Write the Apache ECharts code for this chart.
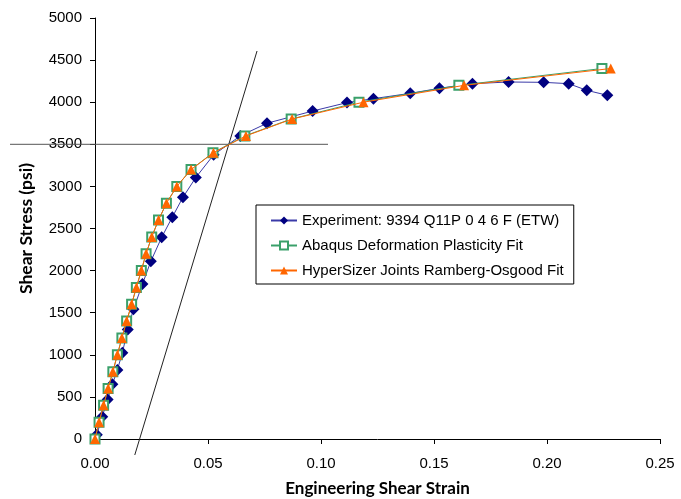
<!DOCTYPE html>
<html><head><meta charset="utf-8">
<script src="https://cdn.jsdelivr.net/npm/echarts@6/dist/echarts.min.js"></script>
<style>html,body{margin:0;padding:0;background:#fff}#c{width:681px;height:499px}</style>
</head><body><div id="c"></div>
<script>
const xTicks = [0, 0.05, 0.10, 0.15, 0.20, 0.25];
const yTicks = [0, 500, 1000, 1500, 2000, 2500, 3000, 3500, 4000, 4500, 5000];

const expStrain = [0.0008,0.0032,0.0056,0.0077,0.0099,0.0121,0.0145,0.0170,0.0210,0.0247,0.0295,0.0342,0.0389,0.0446,0.0525,0.0643,0.0761,0.0963,0.1115,0.1232,0.1395,0.1524,0.1670,0.1830,0.1985,0.2096,0.2176,0.2267];
const expStress = [50,265,470,650,820,1025,1300,1540,1840,2110,2395,2635,2870,3105,3375,3600,3750,3895,3995,4042,4105,4165,4220,4240,4236,4220,4141,4082];

const abqStrain = [0,0.0018,0.0038,0.0058,0.0079,0.0099,0.0119,0.0140,0.0162,0.0183,0.0205,0.0226,0.0251,0.0281,0.0316,0.0362,0.0425,0.0522,0.0663,0.0868,0.1168,0.1610,0.2243];
const abqStress = [0,200,400,600,800,1000,1200,1400,1600,1800,2000,2200,2400,2600,2800,3000,3200,3400,3600,3800,4000,4200,4400];

const hsStrain = [0,0.0018,0.0038,0.0058,0.0079,0.0099,0.0119,0.0140,0.0162,0.0183,0.0205,0.0226,0.0251,0.0281,0.0316,0.0362,0.0425,0.0524,0.0668,0.0872,0.1188,0.1633,0.2282];
const hsStress = [0,200,400,600,800,1000,1200,1400,1600,1800,2000,2200,2400,2600,2800,3000,3200,3400,3600,3800,4000,4200,4400];

const offsetLineStrain = [0.0176, 0.0717];
const offsetLineStress = [-190, 4608];
const hLineStrain = [-0.0376, 0.1031];
const hLineStress = [3500, 3500];

const names = ['Experiment: 9394 Q11P 0 4 6 F (ETW)','Abaqus Deformation Plasticity Fit','HyperSizer Joints Ramberg-Osgood Fit'];
const zip = (a,b) => a.map((v,i)=>[v,b[i]]);

const W = 681, H = 499;
const G = {left:95, right:21, top:18, bottom:60};
const xMin = 0, xMax = 0.25, yMin = 0, yMax = 5000;
// helper grid spanning to the page's left edge, same data-per-pixel scale as main x axis
const plotW = W - G.left - G.right;
const xMin2 = xMin - (xMax - xMin) * G.left / plotW;

const chart = echarts.init(document.getElementById('c'), null, {renderer:'canvas'});
const F = 'Liberation Sans, Arial, sans-serif';
const TF = 'Lato, sans-serif';
chart.setOption({
  animation:false,
  backgroundColor:'#fff',
  grid:[{left:G.left,right:G.right,top:G.top,bottom:G.bottom,containLabel:false,outerBoundsMode:'none'},
        {left:0,right:G.right,top:G.top,bottom:G.bottom,containLabel:false,outerBoundsMode:'none'}],
  xAxis:[{type:'value',gridIndex:0,min:xMin,max:xMax,interval:0.05,
    axisLine:{show:true,onZero:false,lineStyle:{color:'#000',width:1}},
    axisTick:{show:true,length:5,lineStyle:{color:'#000'}},
    splitLine:{show:false},
    axisLabel:{color:'#000',fontFamily:F,fontSize:15,margin:17,formatter:v=>v.toFixed(2)},
    name:'Engineering Shear Strain',nameLocation:'middle',nameGap:41,
    nameTextStyle:{fontFamily:TF,fontWeight:'bold',fontSize:17,color:'#000'}},
   {type:'value',gridIndex:1,min:xMin2,max:xMax,show:false}],
  yAxis:[{type:'value',gridIndex:0,min:yMin,max:yMax,interval:500,
    axisLine:{show:true,lineStyle:{color:'#000',width:1}},
    axisTick:{show:true,length:5,lineStyle:{color:'#000'}},
    splitLine:{show:false},
    axisLabel:{color:'#000',fontFamily:F,fontSize:15,margin:13,formatter:v=>String(v)},
    name:'Shear Stress (psi)',nameLocation:'middle',nameGap:60,nameRotate:90,
    nameTextStyle:{fontFamily:TF,fontWeight:'bold',fontSize:17.5,color:'#000'}},
   {type:'value',gridIndex:1,min:yMin,max:yMax,show:false}],
  legend:{data:names,orient:'vertical',left:256,top:205,
    padding:[8,10,6,14],itemGap:10,itemWidth:26,itemHeight:10,
    borderColor:'#000',borderWidth:1,backgroundColor:'#fff',
    textStyle:{fontFamily:F,fontSize:15,color:'#000'}},
  series:[
    {type:'line',name:'hline',xAxisIndex:1,yAxisIndex:1,data:zip(hLineStrain,hLineStress),symbol:'none',clip:false,silent:true,
      lineStyle:{color:'#555',width:1},z:1},
    {type:'line',name:'oline',data:zip(offsetLineStrain,offsetLineStress),symbol:'none',clip:false,silent:true,
      lineStyle:{color:'#222',width:1},z:1},
    {type:'line',name:names[0],data:zip(expStrain,expStress),symbol:'diamond',symbolSize:12,
      itemStyle:{color:'#000080'},lineStyle:{color:'#3a3aa8',width:1},z:2},
    {type:'line',name:names[1],data:zip(abqStrain,abqStress),symbol:'emptyRect',symbolSize:9,showAllSymbol:true,
      itemStyle:{color:'#3aa06a',borderWidth:1},lineStyle:{color:'#3aa06a',width:1},z:3},
    {type:'line',name:names[2],data:zip(hsStrain,hsStress),symbol:'triangle',symbolSize:10,showAllSymbol:true,
      itemStyle:{color:'#ff6600'},lineStyle:{color:'#ff6600',width:1},z:4}
  ]
});
</script></body></html>
